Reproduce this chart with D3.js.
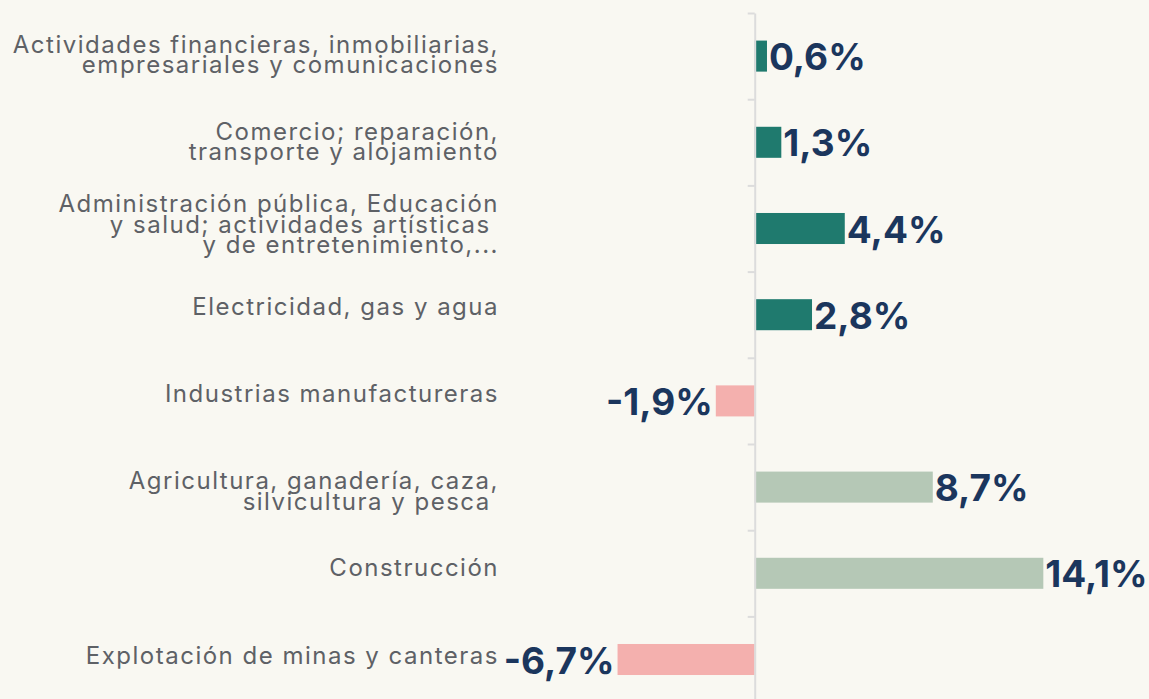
<!DOCTYPE html>
<html>
<head>
<meta charset="utf-8">
<script src="https://cdn.jsdelivr.net/npm/d3@7"></script>
<style>
  html, body { margin: 0; padding: 0; background: #f9f8f2; }
  svg { display: block; }
  .cat { font-family: Inter, "Open Sans", sans-serif; font-size: 24px; letter-spacing: 1.5px; fill: #5e6166; white-space: pre; }
  .val { font-family: Inter, "Open Sans", sans-serif; font-size: 37px; font-weight: 700; fill: #1b365d; }
</style>
</head>
<body>
<svg id="chart" width="1149" height="699"></svg>
<script>
var categories = [
    "Actividades financieras, inmobiliarias,\nempresariales y comunicaciones",
    "Comercio; reparación,\ntransporte y alojamiento",
    "Administración pública, Educación\ny salud; actividades artísticas \ny de entretenimiento,...",
    "Electricidad, gas y agua",
    "Industrias manufactureras",
    "Agricultura, ganadería, caza,\nsilvicultura y pesca ",
    "Construcción",
    "Explotación de minas y canteras"
];
var values = [0.6, 1.3, 4.4, 2.8, -1.9, 8.7, 14.1, -6.7];
var valueLabels = ["0,6%", "1,3%", "4,4%", "2,8%", "-1,9%", "8,7%", "14,1%", "-6,7%"];
var groups = ["a", "a", "a", "a", "n", "b", "b", "n"];

var colors = { a: "#1f7a6e", b: "#b5c8b6", n: "#f4b0ae" };
var axisColor = "#dcdcdc";

var svg = d3.select("#chart");

var zeroX = 754.7;
var pxPerUnit = 20.47;
var x = d3.scaleLinear()
    .domain([-10, 15])
    .range([zeroX - 10 * pxPerUnit, zeroX + 15 * pxPerUnit]);

var y = d3.scaleBand()
    .domain(d3.range(categories.length))
    .range([13, 13 + 86.2 * categories.length])
    .paddingInner(0.64)
    .paddingOuter(0.32);

// labels drift slightly lower than the bars in the original
var yLabel = d3.scaleBand()
    .domain(d3.range(categories.length))
    .range([11, 11 + 87.3 * categories.length]);

// bars
svg.selectAll("rect.bar")
    .data(values)
    .enter().append("rect")
    .attr("class", "bar")
    .attr("x", function (d) { return Math.min(x(0), x(d)); })
    .attr("width", function (d) { return Math.abs(x(d) - x(0)); })
    .attr("y", function (d, i) { return y(i); })
    .attr("height", y.bandwidth())
    .style("fill", function (d, i) { return colors[groups[i]]; });

// axis line with ticks on band boundaries
var axisLeft = d3.axisLeft(d3.scaleLinear().domain([0, categories.length]).range([13, 13 + 86.2 * categories.length]))
    .ticks(categories.length)
    .tickSizeInner(7)
    .tickSizeOuter(0)
    .tickFormat("");
var ax = svg.append("g")
    .attr("transform", "translate(" + x(0) + ",0)")
    .call(axisLeft);
ax.select(".domain").attr("stroke", axisColor).attr("stroke-width", 2);
ax.selectAll(".tick line").attr("stroke", axisColor).attr("stroke-width", 2);

// value labels
svg.selectAll("text.val")
    .data(values)
    .enter().append("text")
    .attr("class", "val")
    .attr("x", function (d) { return d >= 0 ? x(d) + 2 : x(d) - 3; })
    .attr("y", function (d, i) { return y(i) + y.bandwidth() / 2 + 14; })
    .attr("text-anchor", function (d) { return d >= 0 ? "start" : "end"; })
    .text(function (d, i) { return valueLabels[i]; });

// category labels
var lineHeight = 20.5;
var cats = svg.selectAll("text.cat")
    .data(categories)
    .enter().append("text")
    .attr("class", "cat")
    .attr("text-anchor", "end")
    .attr("xml:space", "preserve");
cats.each(function (d, i) {
    var lines = d.split("\n");
    var base = yLabel(i) + yLabel.bandwidth() / 2 - 2 - Math.max(0, lines.length - 2) * 15;
    var t = d3.select(this);
    lines.forEach(function (line, j) {
        t.append("tspan")
            .attr("x", 499)
            .attr("y", base + j * lineHeight)
            .text(line);
    });
});
</script>
</body>
</html>
